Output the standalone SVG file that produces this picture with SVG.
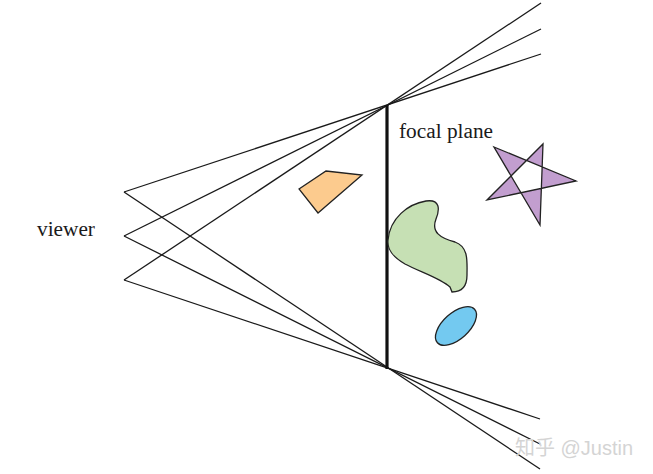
<svg xmlns="http://www.w3.org/2000/svg" width="653" height="474" viewBox="0 0 653 474">
<style>
.ray{stroke:#1a1a1a;stroke-width:1.3;fill:none}
.shape{stroke:#222;stroke-width:1.3}
.lbl{font-family:"Liberation Serif","Times New Roman",serif;font-size:21.3px;fill:#1a1a1a}
.wm{font-family:"Liberation Sans","Noto Sans CJK SC",sans-serif;font-size:20px;fill:#d4d4d4}
</style>
<rect width="653" height="474" fill="#fff"/>
<g id="connectors">
<line class="ray" x1="124" y1="192" x2="541" y2="54"/>
<line class="ray" x1="124" y1="236" x2="541" y2="29"/>
<line class="ray" x1="124" y1="280" x2="541" y2="3"/>
<line class="ray" x1="124" y1="192" x2="540" y2="469"/>
<line class="ray" x1="124" y1="236" x2="540" y2="444"/>
<line class="ray" x1="124" y1="280" x2="540" y2="419"/>
</g>
<g id="focal-plane">
<line x1="387" y1="105" x2="387" y2="369" stroke="#111" stroke-width="3.2"/>
<text class="lbl" x="399" y="138">focal plane</text>
</g>
<g id="viewer">
<text class="lbl" x="37" y="236">viewer</text>
</g>
<g id="quad">
<polygon class="shape" points="299,189 326,171 362,175 318,213" fill="#fccb8e"/>
</g>
<g id="blob">
<path class="shape" fill="#c6e0b4" d="M388,240 C390,218 408,204 426,201 C440,199 440,209 436,219 C431,232 440,238 455,242 C469,247 467,262 467,275 C467,286 462,292 452,292 L450,287 C440,278 420,272 405,264 C393,257 387,250 388,240 Z"/>
</g>
<g id="ellipse">
<ellipse class="shape" cx="456" cy="326" rx="25" ry="13" transform="rotate(-42 456 326)" fill="#73c9f0"/>
</g>
<g id="star">
<path class="shape" fill="#c29ecf" fill-rule="evenodd" d="M494,147 L576,181 L487,200 L543,144 L540,225 Z"/>
</g>
<g id="watermark">
<text class="wm" x="515" y="455">知乎 @Justin</text>
</g>
</svg>
